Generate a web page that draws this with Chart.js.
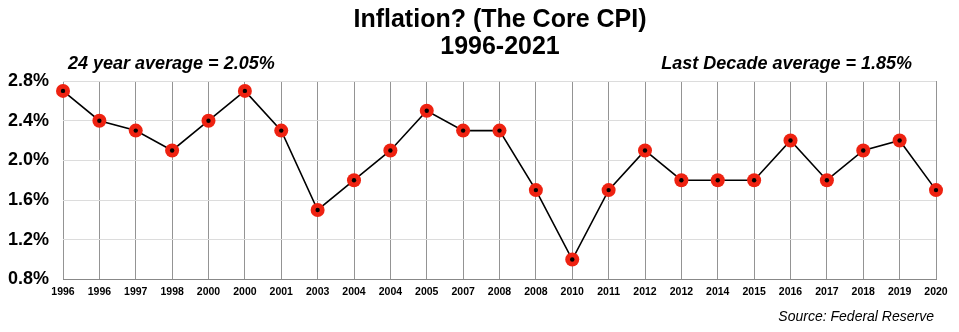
<!DOCTYPE html>
<html>
<head>
<meta charset="utf-8">
<script src="https://cdn.jsdelivr.net/npm/chart.js@4"></script>
<style>
  html, body { margin: 0; padding: 0; background: #fff; }
  #wrap { width: 959px; height: 332px; position: relative; }
</style>
</head>
<body>
<div id="wrap"><canvas id="cpiChart"></canvas></div>
<script>
// 年份標籤 (原圖就是這樣重複的)
const years = ['1996', '1996', '1997', '1998', '2000', '2000', '2001', '2003', '2004', '2004',
  '2005', '2007', '2008', '2008', '2010', '2011', '2012', '2012', '2014', '2015',
  '2016', '2017', '2018', '2019', '2020'];
// Core CPI (%)
const coreCpi = [2.7, 2.4, 2.3, 2.1, 2.4, 2.7, 2.3, 1.5, 1.8, 2.1,
  2.5, 2.3, 2.3, 1.7, 1.0, 1.7, 2.1, 1.8, 1.8, 1.8,
  2.2, 1.8, 2.1, 2.2, 1.7];
const yMin = 0.8;
const yMax = 2.8;
const yStep = 0.2;
const titleLines = ['Inflation? (The Core CPI)', '1996-2021'];
const leftNote = '24 year average = 2.05%';
const rightNote = 'Last Decade average = 1.85%';
const sourceNote = 'Source: Federal Reserve';

const FONT = '"Liberation Sans", Arial, Helvetica, sans-serif';

// 標題與額外文字 (平均值與來源)
const notesPlugin = {
  id: 'notes',
  afterDraw(chart) {
    const ctx = chart.ctx;
    ctx.save();
    ctx.fillStyle = '#000';
    ctx.textBaseline = 'middle';
    ctx.textAlign = 'center';
    ctx.font = 'bold 25px ' + FONT;
    ctx.fillText(titleLines[0], 500, 20);
    ctx.fillText(titleLines[1], 500, 47);
    ctx.font = 'italic bold 18px ' + FONT;
    ctx.textAlign = 'left';
    ctx.fillText(leftNote, 68, 64);
    ctx.textAlign = 'right';
    ctx.fillText(rightNote, 912, 64);
    ctx.font = 'italic 14px ' + FONT;
    ctx.fillText(sourceNote, 934, 317);
    ctx.restore();
  }
};

const ctx = document.getElementById('cpiChart').getContext('2d');
const cpiChart = new Chart(ctx, {
  type: 'line',
  data: {
    labels: years,
    datasets: [
      {
        // 中心黑點
        data: coreCpi,
        showLine: false,
        pointRadius: 2.2,
        pointBackgroundColor: '#000',
        pointBorderWidth: 0,
        order: 0
      },
      {
        data: coreCpi,
        borderColor: '#000',
        borderWidth: 1.6,
        tension: 0,
        pointRadius: 7,
        pointBackgroundColor: '#ee2211',
        pointBorderColor: '#ee2211',
        pointBorderWidth: 0,
        order: 1
      }
    ]
  },
  options: {
    responsive: true,
    maintainAspectRatio: false,
    animation: false,
    layout: { padding: { left: 4, right: 23, top: 81, bottom: 28 } },
    plugins: {
      legend: { display: false },
      tooltip: { enabled: false },
      title: { display: false }
    },
    scales: {
      x: {
        offset: false,
        grid: { color: '#949494', lineWidth: 1, drawTicks: false },
        border: { color: '#888' },
        ticks: {
          autoSkip: false,
          maxRotation: 0,
          padding: 6,
          color: '#000',
          font: { family: FONT, size: 10.5, weight: 'bold' }
        }
      },
      y: {
        min: yMin,
        max: yMax,
        afterFit(scale) { scale.width = 59; },
        grid: { color: '#dcdcdc', lineWidth: 1, drawTicks: false },
        border: { display: false },
        ticks: {
          stepSize: yStep,
          padding: 14,
          color: '#000',
          font: { family: FONT, size: 18, weight: 'bold' },
          callback: v => (Math.round(v * 10) % 4 === 0 ? v.toFixed(1) + '%' : '')
        }
      }
    }
  },
  plugins: [notesPlugin]
});
</script>
</body>
</html>
